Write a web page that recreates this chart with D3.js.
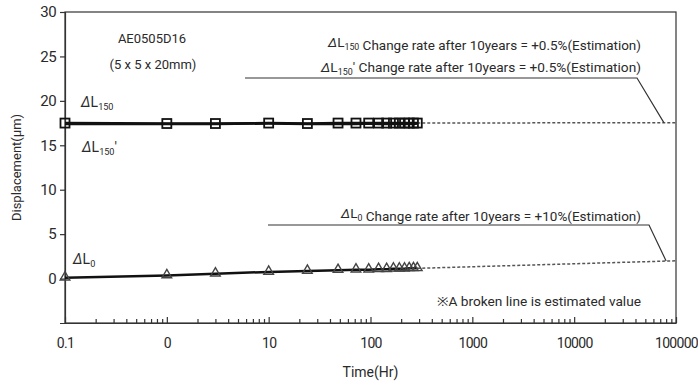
<!DOCTYPE html>
<html>
<head>
<meta charset="utf-8">
<script src="https://cdn.jsdelivr.net/npm/d3@7"></script>
<style>
  body { margin: 0; background: #fff; }
  text { font-family: Roboto, "Noto Sans", sans-serif; fill: #2a2a2a; }
</style>
</head>
<body>
<div id="chart"></div>
<script>
var width = 698, height = 385;
var padding = { left: 65, right: 22, top: 12, bottom: 62 };

// measured hours
var hours = [0.1, 1, 3, 10, 24, 48, 72, 96, 120, 144, 168, 192, 216, 240, 264, 288];
var dL150 = [17.5, 17.45, 17.45, 17.5, 17.45, 17.5, 17.5, 17.5, 17.5, 17.5, 17.5, 17.5, 17.5, 17.5, 17.5, 17.5];
var dL150p = [17.4, 17.4, 17.4, 17.45, 17.4, 17.4, 17.4, 17.45, 17.4, 17.4, 17.4, 17.4, 17.4, 17.4, 17.4, 17.45];
var dL0 = [0.1, 0.35, 0.55, 0.75, 0.85, 0.95, 1.0, 1.0, 1.05, 1.05, 1.1, 1.1, 1.1, 1.15, 1.15, 1.15];
// estimated (broken line)
var estHours = [288, 100000];
var estL150 = [17.5, 17.55];
var estL0 = [1.15, 2.0];

var xTicks = [0.1, 1, 10, 100, 1000, 10000, 100000];
var xTickLabels = ["0.1", "0", "10", "100", "1000", "10000", "100000"];
var yTicks = [0, 5, 10, 15, 20, 25, 30];

var svg = d3.select("#chart").append("svg")
    .attr("width", width)
    .attr("height", height);

var x = d3.scaleLog().domain([0.1, 100000]).range([padding.left, width - padding.right]);
var y = d3.scaleLinear().domain([-5, 30]).range([height - padding.bottom, padding.top]);

// frame
svg.append("rect")
    .attr("x", x(0.1)).attr("y", y(30))
    .attr("width", x(100000) - x(0.1)).attr("height", y(-5) - y(30))
    .attr("fill", "none").attr("stroke", "#333").attr("stroke-width", 1.2);

// y axis
var yAxis = svg.append("g")
    .attr("transform", "translate(" + x(0.1) + ",0)")
    .call(d3.axisLeft(y).tickValues(yTicks).tickSize(5).tickPadding(4));
yAxis.select(".domain").attr("stroke", "#333").attr("stroke-width", 1.2);
yAxis.selectAll("line").attr("stroke", "#333").attr("stroke-width", 1.2);
yAxis.selectAll("text").attr("font-size", 15).attr("letter-spacing", -0.6).style("fill", "#2a2a2a");

// x axis, ticks inside
var minor = [];
for (var e = -1; e < 5; e++) {
    for (var m = 2; m <= 9; m++) minor.push(m * Math.pow(10, e));
}
var xMinor = svg.append("g")
    .attr("transform", "translate(0," + y(-5) + ")")
    .call(d3.axisBottom(x).tickValues(minor).tickSize(-4).tickFormat(""));
xMinor.select(".domain").remove();
xMinor.selectAll("line").attr("stroke", "#333").attr("stroke-width", 1.2);

var xAxis = svg.append("g")
    .attr("transform", "translate(0," + y(-5) + ")")
    .call(d3.axisBottom(x).tickValues(xTicks).tickSizeInner(-6).tickSizeOuter(0).tickPadding(15)
        .tickFormat(function (d, i) { return xTickLabels[i]; }));
xAxis.select(".domain").attr("stroke", "#333").attr("stroke-width", 1.2);
xAxis.selectAll("line").attr("stroke", "#333").attr("stroke-width", 1.2);
xAxis.selectAll("text").attr("font-size", 14).attr("letter-spacing", -0.7).style("fill", "#2a2a2a");

// axis titles
svg.append("text")
    .attr("transform", "translate(21," + ((y(30) + y(-5)) / 2) + ") rotate(-90)")
    .attr("text-anchor", "middle")
    .attr("font-size", 13)
    .text("Displacement(μm)");
svg.append("text")
    .attr("x", x(100)).attr("y", 377)
    .attr("text-anchor", "middle")
    .attr("font-size", 14)
    .text("Time(Hr)");

// estimated lines
var line = d3.line().x(function (d) { return x(d[0]); }).y(function (d) { return y(d[1]); });
[estL150, estL0].forEach(function (vals) {
    svg.append("path")
        .datum(estHours.map(function (h, i) { return [h, vals[i]]; }))
        .attr("d", line)
        .attr("fill", "none").attr("stroke", "#555")
        .attr("stroke-width", 1.5).attr("stroke-dasharray", "3,2");
});

// measured lines
[dL150, dL150p, dL0].forEach(function (vals) {
    svg.append("path")
        .datum(hours.map(function (h, i) { return [h, vals[i]]; }))
        .attr("d", line)
        .attr("fill", "none").attr("stroke", "#111")
        .attr("stroke-width", 2.5);
});

// markers
svg.append("g").selectAll("rect")
    .data(hours)
    .enter()
    .append("rect")
    .attr("x", function (d) { return x(d) - 4.5; })
    .attr("y", function (d, i) { return y(dL150[i]) - 4.5; })
    .attr("width", 9).attr("height", 9)
    .attr("fill", "none").attr("stroke", "#111").attr("stroke-width", 1.8);

var tri = d3.symbol().type(d3.symbolTriangle).size(40);
svg.append("g").selectAll("path")
    .data(hours)
    .enter()
    .append("path")
    .attr("d", tri)
    .attr("transform", function (d, i) { return "translate(" + x(d) + "," + (y(dL0[i]) - 0.5) + ")"; })
    .attr("fill", "none").attr("stroke", "#444").attr("stroke-width", 1.4);

// callout leaders
var leader = d3.line();
svg.append("path")
    .attr("d", leader([[245, 78], [637, 78], [x(76000), y(estL150[1])]]))
    .attr("fill", "none").attr("stroke", "#333").attr("stroke-width", 1.2);
svg.append("path")
    .attr("d", leader([[268, 225], [649, 225], [x(80000), y(1.98)]]))
    .attr("fill", "none").attr("stroke", "#333").attr("stroke-width", 1.2);

// labels with delta L
function deltaL(g, sub, prime) {
    g.append("tspan").attr("font-style", "italic").text("Δ");
    g.append("tspan").text("L");
    g.append("tspan").attr("font-size", "0.65em").attr("dy", 3).text(sub);
    g.append("tspan").attr("dy", -3).text(prime ? "′" : "");
}

var t;
svg.append("text").attr("x", 152).attr("y", 43).attr("text-anchor", "middle")
    .attr("font-size", 13).text("AE0505D16");
svg.append("text").attr("x", 153).attr("y", 69).attr("text-anchor", "middle")
    .attr("font-size", 13).text("(5 x 5 x 20mm)");

t = svg.append("text").attr("x", 81).attr("y", 107).attr("font-size", 14);
deltaL(t, "150", false);
t = svg.append("text").attr("x", 82).attr("y", 152).attr("font-size", 14);
deltaL(t, "150", true);
t = svg.append("text").attr("x", 73).attr("y", 264).attr("font-size", 14);
deltaL(t, "0", false);

function note(yy, sub, prime, rest, len) {
    var g = svg.append("text").attr("x", 641 - len).attr("y", yy).attr("font-size", 13);
    if (sub) deltaL(g, sub, prime);
    g.append("tspan").text(rest);
    g.attr("textLength", len).attr("lengthAdjust", "spacingAndGlyphs");
}
note(47, "150", false, " Change rate after 10years = +0.5%(Estimation)", 313);
note(72, "150", true, "  Change rate after 10years = +0.5%(Estimation)", 320);
note(218, "0", false, " Change rate after 10years = +10%(Estimation)", 300);
note(306, null, false, "※A broken line is estimated value", 204);
</script>
</body>
</html>
